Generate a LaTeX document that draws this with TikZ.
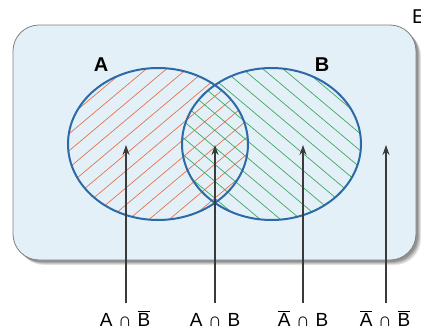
\documentclass[tikz,border=0pt]{standalone}
\usepackage{fontspec}
\setmainfont{Liberation Sans}
\usetikzlibrary{arrows.meta,calc}
\definecolor{bgblue}{HTML}{E4F0F8}
\definecolor{ellblue}{HTML}{2C6AA6}
\definecolor{hred}{HTML}{E2744F}
\definecolor{hgreen}{HTML}{3FA85E}
\definecolor{arrgray}{HTML}{3A3A3A}
\newcommand{\ovl}[1]{$\overline{\mbox{#1}}$}
\newcommand{\capsym}{\hspace{0.3em}∩\hspace{0.3em}}
\tikzset{
  frame/.style={fill=bgblue, draw=black!50, line width=0.8pt, rounded corners=26pt},
  ell/.style={draw=ellblue, line width=2pt},
  redh/.style={draw=hred, line width=0.7pt},
  greenh/.style={draw=hgreen, line width=0.7pt},
  arr/.style={draw=arrgray, line width=1.1pt, -{Stealth[length=10pt,width=7pt]}},
  setlabel/.style={font=\bfseries\fontsize{20}{20}\selectfont, inner sep=0pt},
  oplabel/.style={font=\fontsize{19}{19}\selectfont, inner sep=1pt, anchor=base},
}
\begin{document}
\begin{tikzpicture}[x=1pt,y=-1pt]
\useasboundingbox (0,0) rectangle (421,332);
% shadow
\foreach \s/\o in {5/0.10,4/0.12,3/0.14,2/0.16}
  \fill[black, opacity=\o, rounded corners=26pt] (13+\s,25+\s) rectangle (416+\s,260+\s);
\path[frame] (13,25) rectangle (416,260);
% hatches
\begin{scope}
  \clip (158,144) ellipse [x radius=90, y radius=76];
  \foreach \d in {-10,...,10}
    \draw[redh] ({158+\d*0.643*13 - 140*0.766}, {144+\d*0.766*13 + 140*0.643}) --
                ({158+\d*0.643*13 + 140*0.766}, {144+\d*0.766*13 - 140*0.643});
\end{scope}
\begin{scope}
  \clip (271.5,144) ellipse [x radius=89.5, y radius=76];
  \foreach \d in {-10,...,10}
    \draw[greenh] ({271.5+\d*0.643*13 - 140*0.766}, {144-\d*0.766*13 - 140*0.643}) --
                  ({271.5+\d*0.643*13 + 140*0.766}, {144-\d*0.766*13 + 140*0.643});
\end{scope}
\draw[ell] (158,144) ellipse [x radius=90, y radius=76];
\draw[ell] (271.5,144) ellipse [x radius=89.5, y radius=76];
% set labels
\node[setlabel] (A) at (101,65) {A};
\node[setlabel] (B) at (322,65) {B};
\node[font=\fontsize{20}{20}\selectfont, inner sep=0pt, anchor=west] (E) at (412,17) {E};
% arrow tips
\coordinate (t1) at (126,145);
\coordinate (t2) at (215,145);
\coordinate (t3) at (303,145);
\coordinate (t4) at (386,145);
% operation labels
\node[oplabel] (l1) at (125,326) {A\capsym\ovl{B}};
\node[oplabel] (l2) at (215,326) {A\capsym B};
\node[oplabel] (l3) at (303,326) {\ovl{A}\capsym B};
\node[oplabel] (l4) at (385,326) {\ovl{A}\capsym\ovl{B}};
\coordinate (b1) at (126,303);
\coordinate (b2) at (215,303);
\coordinate (b3) at (303,303);
\coordinate (b4) at (386,303);
\foreach \i in {1,2,3,4} \draw[arr] (b\i) -- (t\i);
\end{tikzpicture}
\end{document}
